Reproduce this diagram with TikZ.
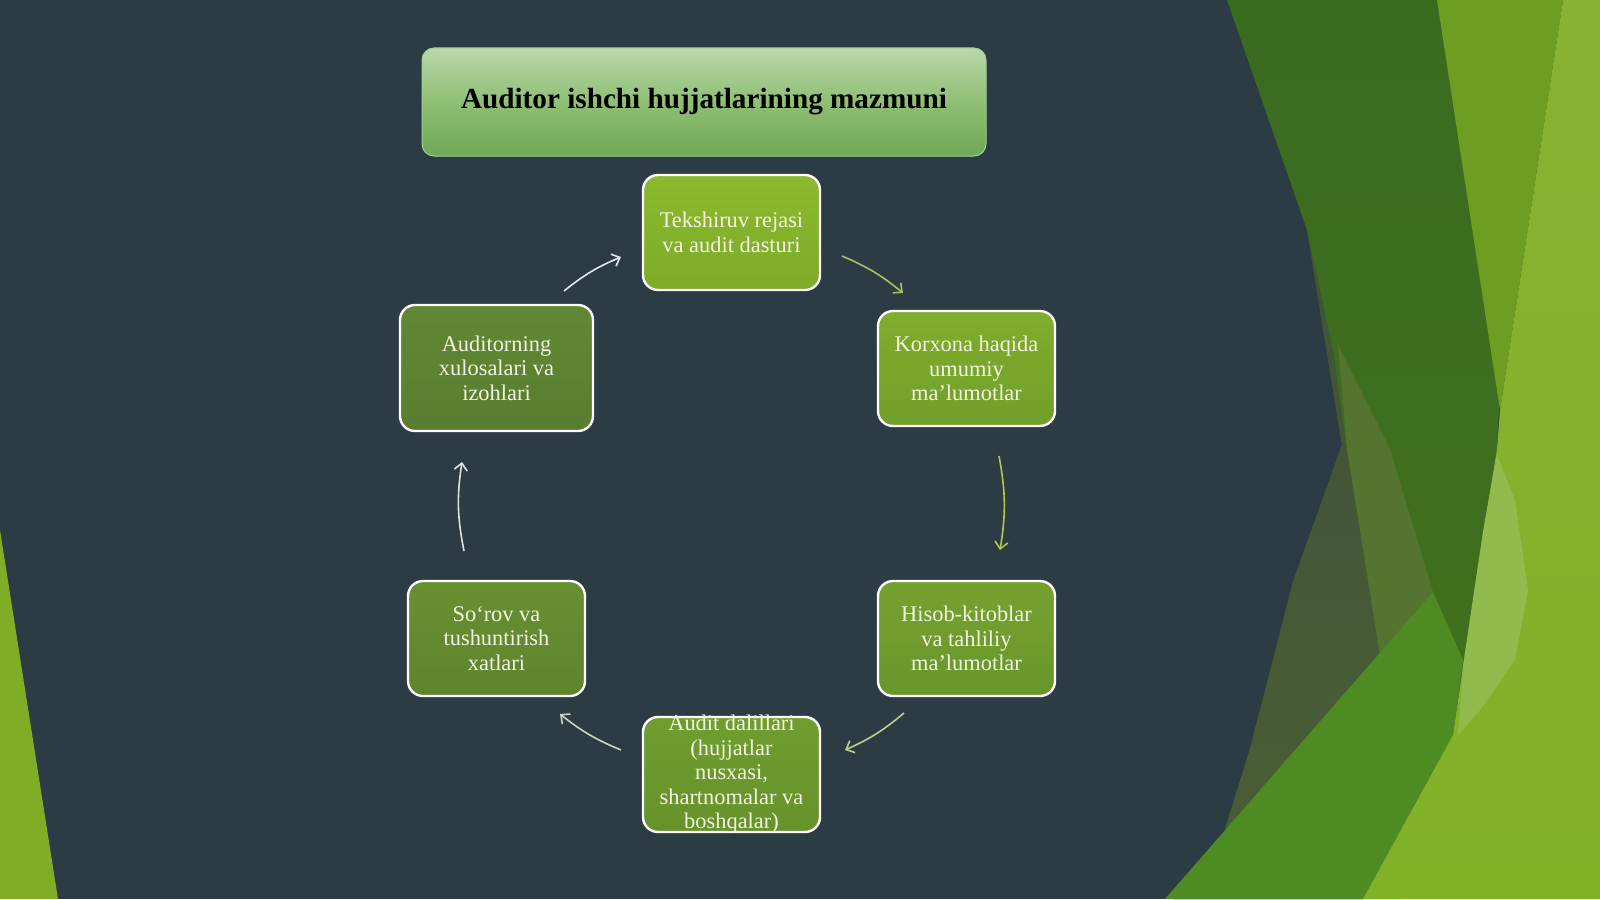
\documentclass[tikz,border=0pt]{standalone}
\usepackage{fontspec}
\setmainfont{Liberation Serif}
\usetikzlibrary{arrows.meta}
\definecolor{bgc}{HTML}{2B3C44}
\definecolor{dg}{HTML}{3B6B1F}
\definecolor{dgb}{HTML}{42711E}
\definecolor{olvA}{HTML}{3F5338}
\definecolor{olvB}{HTML}{4A5F35}
\definecolor{olvL}{HTML}{557430}
\definecolor{brg}{HTML}{4E8B23}
\definecolor{medg}{HTML}{6E9E21}
\definecolor{limeT}{HTML}{87B233}
\definecolor{limeB}{HTML}{80B226}
\definecolor{hil}{HTML}{97C05C}
\definecolor{wedge}{HTML}{80AD25}
\definecolor{txtc}{HTML}{F2F5E4}
\definecolor{tTop}{HTML}{BAD8AA}
\definecolor{tMid}{HTML}{8FBF74}
\definecolor{tBot}{HTML}{6EA856}
\definecolor{bA}{HTML}{8CB92D}\definecolor{bAb}{HTML}{7EAB29}
\definecolor{bB}{HTML}{80AD2C}\definecolor{bBb}{HTML}{729F2A}
\definecolor{bC}{HTML}{75A22E}\definecolor{bCb}{HTML}{69962B}
\definecolor{bD}{HTML}{709D2E}\definecolor{bDb}{HTML}{66922B}
\definecolor{bE}{HTML}{688F30}\definecolor{bEb}{HTML}{5E852D}
\definecolor{bF}{HTML}{628834}\definecolor{bFb}{HTML}{587D31}
\definecolor{arA}{HTML}{A9C35C}
\definecolor{arB}{HTML}{B2C945}
\definecolor{arC}{HTML}{BCD08E}
\definecolor{arD}{HTML}{CBD6C0}
\definecolor{arE}{HTML}{DCE4DE}
\definecolor{arF}{HTML}{E2E9EC}
\tikzset{
  cyclebox/.style={draw=white, line width=1.2pt, rounded corners=7.5pt,
    minimum width=88.5pt, minimum height=57.5pt, inner sep=0pt},
  boxtext/.style={text=txtc, align=center, inner sep=0pt,
    font=\fontsize{11.2}{12.25}\selectfont},
  titlebox/.style={draw=tMid!80!white, line width=0.5pt, rounded corners=6pt,
    minimum width=282pt, minimum height=54pt, inner sep=0pt,
    top color=tTop, bottom color=tBot, middle color=tMid,
    font=\fontsize{14.6}{17}\selectfont\bfseries, text=black},
  cyclearrow/.style={line width=0.8pt, -{Straight Barb[length=3.5pt,width=6.5pt]}},
}
\begin{document}
\begin{tikzpicture}[x=0.5pt,y=-0.5pt]
\useasboundingbox (0,0) rectangle (1600,899);
% background
\fill[bgc] (0,0) rectangle (1600,899);
% left wedge
\fill[wedge] (0,530) -- (58,899) -- (0,899) -- cycle;
% right decoration
\shade[top color=dg, bottom color=dgb] (1227,0) -- (1437,0) -- (1500,390) -- (1497,449) -- (1483,532) -- (1463,666) -- (1453,735) -- (1363,899) -- (1173,899) -- (1223,836) -- (1250,749) -- (1293,582) -- (1342,445) -- (1307,230) -- cycle;
\shade[top color=olvA, bottom color=olvB] (1307,230) -- (1342,445) -- (1293,582) -- (1250,749) -- (1223,836) -- (1173,899) -- (1400,899) -- (1380,655) -- (1347,449) -- (1333,350) -- cycle;
\fill[olvL] (1338,345) -- (1390,449) -- (1433,592) -- (1380,655) -- (1347,449) -- cycle;
\fill[brg] (1165,899) -- (1433,592) -- (1463,660) -- (1453,735) -- (1363,899) -- cycle;
\fill[medg] (1437,0) -- (1563,0) -- (1500,410) -- cycle;
\shade[top color=limeT, bottom color=limeB] (1563,0) -- (1600,0) -- (1600,899) -- (1363,899) -- (1453,735) -- (1463,666) -- (1483,532) -- (1497,449) -- (1500,410) -- cycle;
\fill[hil, opacity=0.7] (1497,455) -- (1515,500) -- (1528,590) -- (1515,660) -- (1480,710) -- (1458,735) -- (1463,666) -- (1483,532) -- cycle;
% title
\node[titlebox] (title) at (704,102) {Auditor ishchi hujjatlarining mazmuni};
% boxes
\node[cyclebox, top color=bA, bottom color=bAb] (b1) at (731.5,232.5) {};
\node[cyclebox, top color=bB, bottom color=bBb] (b2) at (966.5,368.5) {};
\node[cyclebox, top color=bC, bottom color=bCb] (b3) at (966.5,638.5) {};
\node[cyclebox, top color=bD, bottom color=bDb] (b4) at (731.5,774.5) {};
\node[cyclebox, top color=bE, bottom color=bEb] (b5) at (496.5,638.5) {};
\node[cyclebox, top color=bF, bottom color=bFb, minimum width=96.5pt, minimum height=63pt] (b6) at (496.5,368) {};
\node[boxtext] (t1) at (b1) {Tekshiruv rejasi\\va audit dasturi};
\node[boxtext] (t2) at (b2) {Korxona haqida\\umumiy\\ma’lumotlar};
\node[boxtext] (t3) at (b3) {Hisob-kitoblar\\va tahliliy\\ma’lumotlar};
\node[boxtext] (t4) at (b4) {Audit dalillari\\(hujjatlar\\nusxasi,\\shartnomalar va\\boshqalar)};
\node[boxtext] (t5) at (b5) {So‘rov va\\tushuntirish\\xatlari};
\node[boxtext] (t6) at (b6) {Auditorning\\xulosalari va\\izohlari};
% arrows
\coordinate (a1s) at (842,256); \coordinate (a1e) at (903,293);
\coordinate (a2s) at (999,456); \coordinate (a2e) at (1000,550);
\coordinate (a3s) at (904,713); \coordinate (a3e) at (845,750);
\coordinate (a4s) at (621,750); \coordinate (a4e) at (560,714);
\coordinate (a5s) at (464,551); \coordinate (a5e) at (462,462);
\coordinate (a6s) at (564,291); \coordinate (a6e) at (621,257);
\draw[cyclearrow, arA] (a1s) to[bend left=8] (a1e);
\draw[cyclearrow, arB] (a2s) to[bend left=10] (a2e);
\draw[cyclearrow, arC] (a3s) to[bend left=8] (a3e);
\draw[cyclearrow, arD] (a4s) to[bend left=8] (a4e);
\draw[cyclearrow, arE] (a5s) to[bend left=10] (a5e);
\draw[cyclearrow, arF] (a6s) to[bend left=8] (a6e);
\end{tikzpicture}
\end{document}
